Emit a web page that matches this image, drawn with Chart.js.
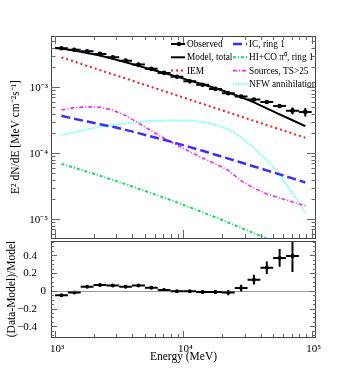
<!DOCTYPE html>
<html>
<head>
<meta charset="utf-8">
<script src="https://cdn.jsdelivr.net/npm/chart.js@4.4.1/dist/chart.umd.min.js"></script>
<style>
  html, body { margin: 0; padding: 0; background: #fff; }
  #wrap { position: relative; width: 354px; height: 368px; }
  canvas { position: absolute; left: 0; }
  #top { top: 0; }
  #bot { top: 230px; }
</style>
</head>
<body>
<div id="wrap">
  <canvas id="top" width="354" height="242"></canvas>
  <canvas id="bot" width="354" height="138"></canvas>
</div>
<script>
// energy bins (MeV): edges and centres
const edges = [1000, 1259, 1585, 1995, 2512, 3162, 3981, 5012, 6310, 7943, 10000, 12589, 15849, 19953, 25119, 31623, 39811, 50119, 63096, 79433, 100000];
const energy = [1122, 1413, 1778, 2239, 2818, 3548, 4467, 5623, 7079, 8913, 11220, 14125, 17783, 22387, 28184, 35481, 44668, 56234, 70795, 89125];

// E^2 dN/dE [MeV cm^-2 s^-1]
const observed = [3.91e-3, 3.70e-3, 3.52e-3, 3.20e-3, 2.84e-3, 2.53e-3, 2.21e-3, 1.90e-3, 1.65e-3, 1.44e-3, 1.23e-3, 1.09e-3, 9.44e-4, 8.13e-4, 7.23e-4, 6.53e-4, 5.97e-4, 5.20e-4, 4.42e-4, 4.23e-4];
const observedErr = [0.01, 0.01, 0.01, 0.01, 0.01, 0.01, 0.012, 0.012, 0.013, 0.015, 0.015, 0.018, 0.02, 0.025, 0.03, 0.045, 0.055, 0.07, 0.12, 0.15];

const modelE = [1000, 1122, 1413, 1778, 2239, 2818, 3548, 4467, 5623, 7079, 8913, 11220, 14125, 17783, 22387, 28184, 35481, 44668, 56234, 70795, 89125];
const model = [3.98e-3, 3.85e-3, 3.59e-3, 3.31e-3, 3.02e-3, 2.69e-3, 2.40e-3, 2.11e-3, 1.86e-3, 1.64e-3, 1.45e-3, 1.26e-3, 1.11e-3, 9.66e-4, 8.32e-4, 7.08e-4, 5.89e-4, 4.79e-4, 3.89e-4, 3.16e-4, 2.57e-4];
const iem = [2.84e-3, 2.45e-3, 2.11e-3, 1.82e-3, 1.57e-3, 1.36e-3, 1.17e-3, 1.01e-3, 8.71e-4, 7.52e-4, 6.49e-4, 5.60e-4, 4.83e-4, 4.17e-4, 3.59e-4, 3.10e-4, 2.67e-4, 2.31e-4, 1.99e-4, 1.72e-4];
const icRing1 = [3.69e-4, 3.33e-4, 3.03e-4, 2.75e-4, 2.52e-4, 2.26e-4, 2.02e-4, 1.79e-4, 1.60e-4, 1.41e-4, 1.24e-4, 1.09e-4, 9.51e-5, 8.30e-5, 7.24e-5, 6.31e-5, 5.50e-5, 4.79e-5, 4.16e-5, 3.61e-5];
const gasRing1 = [6.90e-5, 6.03e-5, 5.25e-5, 4.56e-5, 3.94e-5, 3.40e-5, 2.90e-5, 2.49e-5, 2.12e-5, 1.80e-5, 1.52e-5, 1.27e-5, 1.07e-5, 8.93e-6, 7.41e-6, 6.14e-6, 5.06e-6, 4.16e-6, 3.40e-6, 2.75e-6];
const sources = [4.53e-4, 4.91e-4, 5.05e-4, 4.98e-4, 4.50e-4, 3.72e-4, 2.88e-4, 2.18e-4, 1.69e-4, 1.33e-4, 1.06e-4, 8.47e-5, 6.90e-5, 5.51e-5, 3.84e-5, 2.96e-5, 2.42e-5, 2.10e-5, 1.83e-5, 1.60e-5];
const nfw = [1.91e-4, 2.07e-4, 2.30e-4, 2.51e-4, 2.69e-4, 2.82e-4, 2.98e-4, 3.08e-4, 3.13e-4, 3.16e-4, 3.13e-4, 2.98e-4, 2.73e-4, 2.30e-4, 1.75e-4, 1.20e-4, 7.91e-5, 4.72e-5, 2.45e-5, 1.28e-5];

// (Data-Model)/Model, first 19 bins
const residual = [-0.05, -0.02, 0.045, 0.065, 0.06, 0.045, 0.06, 0.035, 0.01, -0.005, -0.005, -0.015, -0.015, -0.02, 0.03, 0.125, 0.26, 0.37, 0.39];
const residualErr = [0.01, 0.01, 0.01, 0.01, 0.01, 0.01, 0.012, 0.012, 0.013, 0.015, 0.015, 0.018, 0.02, 0.03, 0.037, 0.055, 0.07, 0.10, 0.18];

// tick labels
const xTickValues = [1e3, 1e4, 1e5];
const xTickLabels = ['10³', '10⁴', '10⁵'];
const yTickValues = [1e-5, 1e-4, 1e-3];
const yTickLabels = ['10⁻⁵', '10⁻⁴', '10⁻³'];
const rTickValues = [-0.4, -0.2, 0, 0.2, 0.4];
const rTickLabels = ['−0.4', '−0.2', '0', '0.2', '0.4'];

const SERIF = "'Liberation Serif', 'Times New Roman', serif";
Chart.defaults.font.family = SERIF;
Chart.defaults.color = '#000';

const pairs = (xs, ys) => xs.map((x, i) => ({x: x, y: ys[i]}));

// ROOT-like frame with inward ticks
const rootFrame = {
  id: 'rootFrame',
  afterDraw(chart, args, o) {
    const {ctx, chartArea: a, scales: {x, y}} = chart;
    ctx.save();
    ctx.strokeStyle = '#444';
    ctx.lineWidth = 1;
    ctx.strokeRect(Math.round(a.left) + 0.5, Math.round(a.top) + 0.5, Math.round(a.right - a.left) - 1, Math.round(a.bottom - a.top));

    ctx.strokeStyle = '#666';
    // x ticks (log)
    for (let d = 100; d <= 1e6; d *= 10) {
      for (let m = 1; m < 10; m++) {
        const v = d * m;
        if (v < x.min || v > x.max) continue;
        const px = Math.round(x.getPixelForValue(v)) + 0.5;
        const len = m === 1 ? o.xMajor : o.xMinor;
        ctx.beginPath();
        ctx.moveTo(px, a.bottom); ctx.lineTo(px, a.bottom - len);
        if (o.xTop) { ctx.moveTo(px, a.top); ctx.lineTo(px, a.top + len); }
        ctx.stroke();
      }
    }
    // y ticks
    const yt = [];
    if (o.yLog) {
      for (let d = 1e-7; d <= 1e-1; d *= 10) {
        for (let m = 1; m < 10; m++) yt.push([d * m, m === 1]);
      }
    } else {
      for (let k = -12; k <= 12; k++) yt.push([k * 0.05, k % 4 === 0]);
    }
    yt.forEach(([v, major]) => {
      if (v < y.min || v > y.max) return;
      const py = Math.round(y.getPixelForValue(v)) + 0.5;
      const len = major ? o.yMajor : o.yMinor;
      ctx.beginPath();
      ctx.moveTo(a.left, py); ctx.lineTo(a.left + len, py);
      ctx.moveTo(a.right, py); ctx.lineTo(a.right - len, py);
      ctx.stroke();
    });
    ctx.restore();
  }
};

// error bars drawn through the scales
function drawErrorBars(chart, ys, lo, hi) {
  const {ctx, chartArea: a, scales: {x, y}} = chart;
  ctx.save();
  ctx.beginPath();
  ctx.rect(a.left, a.top, a.right - a.left, a.bottom - a.top);
  ctx.clip();
  ctx.strokeStyle = '#000';
  ctx.lineWidth = 2;
  ys.forEach((v, i) => {
    const py = y.getPixelForValue(v);
    const px = x.getPixelForValue(energy[i]);
    ctx.beginPath();
    ctx.moveTo(x.getPixelForValue(edges[i]), py);
    ctx.lineTo(x.getPixelForValue(edges[i + 1]), py);
    ctx.moveTo(px, y.getPixelForValue(lo[i]));
    ctx.lineTo(px, y.getPixelForValue(hi[i]));
    ctx.stroke();
  });
  ctx.restore();
}

const topBars = {
  id: 'topBars',
  afterDatasetsDraw(chart) {
    drawErrorBars(chart, observed,
      observed.map((v, i) => v * (1 - observedErr[i])),
      observed.map((v, i) => v * (1 + observedErr[i])));
  }
};

const botBars = {
  id: 'botBars',
  afterDatasetsDraw(chart) {
    const {ctx, chartArea: a, scales: {y}} = chart;
    const py = Math.round(y.getPixelForValue(0)) + 0.5;
    ctx.save();
    ctx.strokeStyle = '#9a9a9a';
    ctx.lineWidth = 1;
    ctx.beginPath(); ctx.moveTo(a.left, py); ctx.lineTo(a.right, py); ctx.stroke();
    ctx.restore();
    drawErrorBars(chart, residual,
      residual.map((v, i) => v - residualErr[i]),
      residual.map((v, i) => v + residualErr[i]));
  }
};

// legend inside the upper panel, two columns
const legendSlots = [[171, 44], [171, 57.3], [171, 70.6], [233, 44], [233, 57.3], [233, 70.6], [233, 83.9]];
const insideLegend = {
  id: 'insideLegend',
  afterDraw(chart) {
    const ctx = chart.ctx;
    ctx.save();
    ctx.font = '9.3px ' + SERIF;
    ctx.textBaseline = 'middle';
    ctx.fillStyle = '#000';
    chart.data.datasets.forEach((ds, i) => {
      const [sx, sy] = legendSlots[i];
      ctx.save();
      ctx.strokeStyle = ds.borderColor;
      ctx.lineWidth = i === 0 ? 2 : ds.borderWidth;
      ctx.setLineDash(ds.borderDash || []);
      ctx.beginPath(); ctx.moveTo(sx, sy); ctx.lineTo(sx + 14, sy); ctx.stroke();
      if (i === 0) {
        ctx.beginPath(); ctx.arc(sx + 8, sy, 2.2, 0, Math.PI * 2); ctx.fillStyle = '#000'; ctx.fill();
      }
      ctx.restore();
      ctx.fillText(ds.label, sx + 16, sy + 0.5);
    });
    ctx.restore();
  }
};

// tick labels
const tickText = {
  id: 'tickText',
  afterDraw(chart, args, o) {
    const {ctx, scales: {x, y}, chartArea: a} = chart;
    ctx.save();
    ctx.fillStyle = '#000';
    ctx.font = '11px ' + SERIF;
    if (o.which === 'top') {
      ctx.textAlign = 'right';
      ctx.textBaseline = 'middle';
      yTickValues.forEach((v, i) => ctx.fillText(yTickLabels[i], 48, y.getPixelForValue(v) + 0.5));
    } else {
      ctx.textBaseline = 'middle';
      rTickValues.forEach((v, i) => {
        ctx.textAlign = 'right';
        ctx.fillText(rTickLabels[i], v === 0 ? 46 : 37, y.getPixelForValue(v) + 0.5);
      });
      ctx.textAlign = 'center';
      ctx.textBaseline = 'alphabetic';
      xTickValues.forEach((v, i) => ctx.fillText(xTickLabels[i], x.getPixelForValue(v) + 2, a.bottom + 15));
    }
    ctx.restore();
  }
};

const xMin = 930, xMax = 108000;

new Chart(document.getElementById('top'), {
  type: 'line',
  data: {
    datasets: [
      { label: 'Observed', data: pairs(energy, observed), showLine: false, pointRadius: 2.3, pointBorderWidth: 0, pointBackgroundColor: '#000', borderColor: '#000' },
      { label: 'Model, total', data: pairs(modelE, model), borderColor: '#000', borderWidth: 2, pointRadius: 0 },
      { label: 'IEM', data: pairs(energy, iem), borderColor: '#ff1a1a', borderWidth: 2, borderDash: [2, 3], pointRadius: 0 },
      { label: 'IC, ring 1', data: pairs(energy, icRing1), borderColor: '#3c2cff', borderWidth: 2.5, borderDash: [9, 4], pointRadius: 0 },
      { label: 'HI+CO π⁰, ring 1', data: pairs(energy, gasRing1), borderColor: '#10dd55', borderWidth: 2, borderDash: [3, 2, 1, 2], pointRadius: 0, clip: 0 },
      { label: 'Sources, TS>25', data: pairs(energy, sources), borderColor: '#ff22ff', borderWidth: 1.6, borderDash: [4, 2, 1, 2], pointRadius: 0 },
      { label: 'NFW annihilation', data: pairs(energy, nfw), borderColor: '#77ffff', borderWidth: 2, borderDash: [1.5, 1], pointRadius: 0 }
    ]
  },
  options: {
    responsive: false,
    animation: false,
    devicePixelRatio: 1,
    layout: { padding: { top: 36, right: 38, bottom: 1, left: 0 } },
    plugins: {
      legend: { display: false },
      tooltip: { enabled: false },
      rootFrame: { xMajor: 8, xMinor: 4, yMajor: 9, yMinor: 4.5, xTop: true, yLog: true },
      tickText: { which: 'top' }
    },
    scales: {
      x: { type: 'logarithmic', min: xMin, max: xMax, display: false },
      y: {
        type: 'logarithmic', min: 5.2e-6, max: 5.98e-3,
        grid: { display: false }, border: { display: false },
        ticks: { display: false },
        title: { display: true, text: 'E² dN/dE [MeV cm⁻²s⁻¹]', font: { size: 11.5 }, padding: { top: 9, bottom: 0 } },
        afterFit(s) { s.width = 51; }
      }
    }
  },
  plugins: [topBars, rootFrame, insideLegend, tickText]
});

new Chart(document.getElementById('bot'), {
  type: 'line',
  data: {
    datasets: [
      { label: 'Residual', data: pairs(energy.slice(0, residual.length), residual), showLine: false, pointRadius: 2, pointBorderWidth: 0, pointBackgroundColor: '#000' }
    ]
  },
  options: {
    responsive: false,
    animation: false,
    devicePixelRatio: 1,
    layout: { padding: { top: 11, right: 38, bottom: 0, left: 0 } },
    plugins: {
      legend: { display: false },
      tooltip: { enabled: false },
      rootFrame: { xMajor: 6, xMinor: 3, yMajor: 6, yMinor: 3, xTop: false, yLog: false },
      tickText: { which: 'bot' }
    },
    scales: {
      x: {
        type: 'logarithmic', min: xMin, max: xMax,
        grid: { display: false }, border: { display: false },
        ticks: { display: false },
        title: { display: true, text: 'Energy (MeV)', font: { size: 11.5 }, padding: { top: 0, bottom: 4 } },
        afterFit(s) { s.height = 31; }
      },
      y: {
        type: 'linear', min: -0.52, max: 0.56,
        grid: { display: false }, border: { display: false },
        ticks: { display: false },
        title: { display: true, text: '(Data-Model)/Model', font: { size: 11.5 }, padding: { top: 5, bottom: 0 } },
        afterFit(s) { s.width = 51; }
      }
    }
  },
  plugins: [botBars, rootFrame, tickText]
});
</script>
</body>
</html>
